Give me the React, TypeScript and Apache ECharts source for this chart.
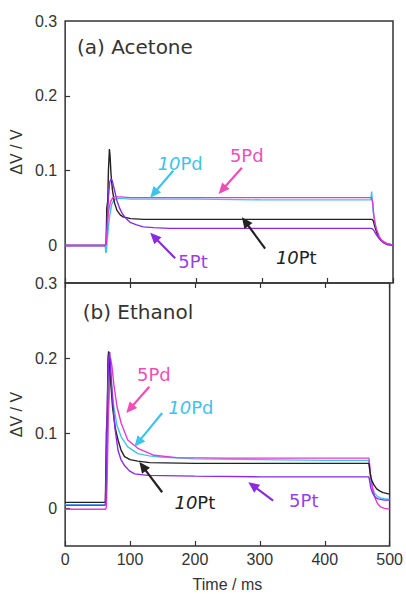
import React, { useEffect, useRef } from "react";
import * as echarts from "echarts";

// ---- axis ticks ----
const xTickValues = [0, 100, 200, 300, 400, 500];
const yLabelValues = [0, 0.1, 0.2, 0.3];
const yTickValues = [0, 0.1, 0.2];

// ---- (a) Acetone ----
const aceT_10Pt = [0, 61, 62.5, 63.5, 65, 66, 67.5, 68.5, 70, 72, 75, 79, 84, 89, 95, 100, 120, 200, 300, 400, 466, 468, 470, 472, 475, 478, 482, 487, 493, 500];
const aceV_10Pt = [0, 0, 0.005, 0.05, 0.06, 0.1, 0.129, 0.12, 0.095, 0.075, 0.058, 0.047, 0.041, 0.038, 0.037, 0.036, 0.035, 0.035, 0.035, 0.035, 0.035, 0.035, 0.033, 0.026, 0.018, 0.012, 0.007, 0.004, 0.002, 0.001];

const aceT_5Pt = [0, 61, 62.5, 64, 66, 68, 70, 72, 75, 79, 83, 87, 92, 99, 108, 119, 135, 160, 200, 300, 400, 467, 469, 471, 475, 480, 485, 492, 500];
const aceV_5Pt = [0, 0, 0.002, 0.03, 0.065, 0.085, 0.089, 0.086, 0.075, 0.06, 0.05, 0.043, 0.037, 0.031, 0.028, 0.025, 0.024, 0.023, 0.023, 0.023, 0.023, 0.023, 0.022, 0.02, 0.014, 0.008, 0.004, 0.001, 0];

const aceT_10Pd = [0, 61, 62, 63, 64, 66, 68, 71, 74, 79, 85, 100, 200, 300, 400, 466, 467.5, 468.5, 470, 472, 475, 479, 484, 490, 500];
const aceV_10Pd = [0, 0, -0.01, -0.008, 0.005, 0.025, 0.04, 0.055, 0.06, 0.063, 0.063, 0.062, 0.062, 0.061, 0.061, 0.061, 0.072, 0.06, 0.045, 0.032, 0.02, 0.01, 0.005, 0.002, 0.001];

const aceT_5Pd = [0, 61, 62, 64, 66, 69, 72.7, 76, 85, 100, 200, 300, 400, 467, 469, 470.5, 473, 475.5, 479, 483, 490, 500];
const aceV_5Pd = [0, 0, 0.002, 0.02, 0.045, 0.058, 0.064, 0.065, 0.065, 0.064, 0.064, 0.064, 0.064, 0.064, 0.058, 0.042, 0.028, 0.02, 0.012, 0.007, 0.003, 0.001];

// ---- (b) Ethanol ----
const ethT_10Pt = [0, 61, 62, 63.5, 65, 66, 67, 68, 70, 73, 77, 81.5, 86, 91.5, 100, 112, 130, 200, 300, 400, 468, 469.5, 471, 473, 476, 480, 485, 490, 500];
const ethV_10Pt = [0.008, 0.008, 0.01, 0.1, 0.13, 0.2, 0.209, 0.2, 0.17, 0.135, 0.108, 0.091, 0.078, 0.069, 0.065, 0.063, 0.061, 0.06, 0.06, 0.06, 0.06, 0.05, 0.042, 0.036, 0.031, 0.026, 0.023, 0.021, 0.019];

const ethT_5Pt = [0, 61, 62, 63.5, 65, 67, 68.7, 70, 73, 77, 81.5, 86, 91.5, 99, 107, 127, 200, 300, 400, 468, 469.5, 471, 474, 477, 481, 486, 492, 500];
const ethV_5Pt = [0.004, 0.004, 0.006, 0.06, 0.14, 0.2, 0.208, 0.19, 0.145, 0.105, 0.077, 0.065, 0.057, 0.05, 0.046, 0.044, 0.043, 0.042, 0.042, 0.042, 0.035, 0.027, 0.02, 0.016, 0.013, 0.012, 0.011, 0.011];

const ethT_10Pd = [0, 62, 63, 64.5, 66, 68, 70, 72, 75, 80, 86.5, 96.5, 112, 130, 147, 200, 300, 400, 468, 469.5, 471, 474, 477, 481, 486, 492, 500];
const ethV_10Pd = [0.005, 0.005, 0.007, 0.06, 0.12, 0.16, 0.172, 0.16, 0.135, 0.11, 0.095, 0.082, 0.073, 0.07, 0.0685, 0.066, 0.065, 0.064, 0.064, 0.05, 0.038, 0.027, 0.02, 0.016, 0.014, 0.013, 0.012];

const ethT_5Pd = [0, 62.5, 63.5, 65, 66.5, 68.5, 70, 72, 75, 80, 86.5, 96.5, 112, 137, 172, 250, 300, 400, 468, 469.5, 471, 474, 477, 481, 486, 492, 500];
const ethV_5Pd = [-0.001, -0.001, 0.002, 0.05, 0.12, 0.18, 0.2, 0.19, 0.165, 0.135, 0.113, 0.091, 0.08, 0.0707, 0.0676, 0.067, 0.067, 0.067, 0.067, 0.055, 0.04, 0.025, 0.015, 0.007, 0.002, 0, -0.001];

// ---- colours / fonts ----
const C_10Pt = "#222222";
const C_5Pt = "#8a2be2";
const C_10Pd = "#3fc3ea";
const C_5Pd = "#e23ad6";
const L_5Pd = "#ee4fb6";
const L_5Pt = "#9a3fe6";
const TICK_FONT = "Liberation Sans";
const ANN_FONT = "DejaVu Sans";
const AX = "#333333";

const zip = (t: number[], v: number[]) => t.map((x, i) => [x, v[i]]);

type Ann = {
  panel: number;
  lead?: string;
  tail: string;
  color: string;
  arrowColor?: string;
  tx: number;
  ty: number;
  ax0?: number;
  ay0?: number;
  ax1?: number;
  ay1?: number;
  size: number;
  align: string;
};

const annotations: Ann[] = [
  { panel: 0, tail: "(a) Acetone", color: "#333", tx: 18, ty: 0.265, size: 20, align: "left" },
  { panel: 1, tail: "(b) Ethanol", color: "#333", tx: 27, ty: 0.261, size: 20, align: "left" },
  { panel: 0, lead: "10", tail: "Pd", color: C_10Pd, arrowColor: C_10Pd, tx: 175.5, ty: 0.109, ax0: 164.8, ay0: 0.1, ax1: 129.7, ay1: 0.064, size: 18, align: "center" },
  { panel: 0, tail: "5Pd", color: L_5Pd, arrowColor: L_5Pd, tx: 277, ty: 0.12, ax0: 269.6, ay0: 0.104, ax1: 234, ay1: 0.069, size: 18, align: "center" },
  { panel: 0, tail: "5Pt", color: L_5Pt, arrowColor: C_5Pt, tx: 195, ty: -0.021, ax0: 167.8, ay0: -0.017, ax1: 129.7, ay1: 0.017, size: 18, align: "center" },
  { panel: 0, lead: "10", tail: "Pt", color: C_10Pt, arrowColor: C_10Pt, tx: 352.5, ty: -0.016, ax0: 305, ay0: -0.004, ax1: 269.6, ay1: 0.038, size: 18, align: "center" },
  { panel: 1, tail: "5Pd", color: L_5Pd, arrowColor: L_5Pd, tx: 136.6, ty: 0.178, ax0: 129.7, ay0: 0.162, ax1: 94.1, ay1: 0.127, size: 18, align: "center" },
  { panel: 1, lead: "10", tail: "Pd", color: C_10Pd, arrowColor: C_10Pd, tx: 193.8, ty: 0.134, ax0: 149.5, ay0: 0.127, ax1: 106.8, ay1: 0.082, size: 18, align: "center" },
  { panel: 1, lead: "10", tail: "Pt", color: C_10Pt, arrowColor: C_10Pt, tx: 199.9, ty: 0.0077, ax0: 149.5, ay0: 0.0215, ax1: 114.4, ay1: 0.0617, size: 18, align: "center" },
  { panel: 1, tail: "5Pt", color: L_5Pt, arrowColor: C_5Pt, tx: 367.7, ty: 0.0103, ax0: 320.4, ay0: 0.0103, ax1: 282.3, ay1: 0.0349, size: 18, align: "center" },
];

const yAxisBase = (gridIndex: number) => ({
  type: "value",
  gridIndex,
  min: -0.05,
  max: 0.3,
  name: "ΔV / V",
  nameLocation: "middle",
  nameGap: 36,
  nameRotate: 90,
  nameTextStyle: { fontSize: 16, color: AX, fontFamily: TICK_FONT },
  axisLine: { show: false, onZero: false },
  splitLine: { show: false },
  axisTick: { show: true, inside: true, length: 5, customValues: yTickValues, lineStyle: { color: AX, width: 1.2 } },
  axisLabel: { show: true, customValues: yLabelValues, margin: 8, fontSize: 16, color: AX, fontFamily: TICK_FONT, formatter: (v: number) => (v === 0 ? "0" : v.toFixed(1)) },
});

const xAxisBase = (gridIndex: number, position: string, labels: boolean) => ({
  type: "value",
  gridIndex,
  position,
  min: 0,
  max: 500,
  interval: 100,
  axisLine: { show: false, onZero: false },
  splitLine: { show: false },
  axisTick: { show: true, inside: true, length: 5, customValues: xTickValues, lineStyle: { color: AX, width: 1.2 } },
  axisLabel: { show: labels, margin: 5, fontSize: 16, color: AX, fontFamily: TICK_FONT },
});

const lineSeries = (name: string, t: number[], v: number[], color: string, axis: number) => ({
  name,
  type: "line",
  xAxisIndex: axis === 0 ? 0 : 1,
  yAxisIndex: axis,
  data: zip(t, v),
  showSymbol: false,
  symbol: "none",
  lineStyle: { color, width: 1.4 },
  itemStyle: { color },
  silent: true,
});

const option: any = {
  animation: false,
  backgroundColor: "#ffffff",
  textStyle: { fontFamily: TICK_FONT },
  grid: [
    { left: 65, right: 13, top: 21, height: 262, show: true, borderColor: AX, borderWidth: 1.5, backgroundColor: "transparent" },
    { left: 65, right: 13, top: 283, height: 263, show: true, borderColor: AX, borderWidth: 1.5, backgroundColor: "transparent" },
  ],
  xAxis: [
    xAxisBase(0, "bottom", false),
    { ...xAxisBase(1, "bottom", true), name: "Time / ms", nameLocation: "middle", nameGap: 30, nameTextStyle: { fontSize: 16, color: AX, fontFamily: TICK_FONT } },
    xAxisBase(1, "top", false),
  ],
  yAxis: [yAxisBase(0), yAxisBase(1)],
  series: [
    lineSeries("10Pd", aceT_10Pd, aceV_10Pd, C_10Pd, 0),
    lineSeries("10Pt", aceT_10Pt, aceV_10Pt, C_10Pt, 0),
    lineSeries("5Pt", aceT_5Pt, aceV_5Pt, C_5Pt, 0),
    lineSeries("5Pd", aceT_5Pd, aceV_5Pd, C_5Pd, 0),
    lineSeries("10Pd", ethT_10Pd, ethV_10Pd, C_10Pd, 1),
    lineSeries("5Pd", ethT_5Pd, ethV_5Pd, C_5Pd, 1),
    lineSeries("10Pt", ethT_10Pt, ethV_10Pt, C_10Pt, 1),
    lineSeries("5Pt", ethT_5Pt, ethV_5Pt, C_5Pt, 1),
  ],
};

export default function App() {
  const ref = useRef<HTMLDivElement>(null);
  useEffect(() => {
    const chart = echarts.init(ref.current!, null, { renderer: "svg" });
    chart.setOption(option);
    const graphics: any[] = [];
    annotations.forEach((a) => {
      const p = chart.convertToPixel({ gridIndex: a.panel } as any, [a.tx, a.ty]) as number[];
      const rich: any = {
        i: { fontStyle: "italic", fill: a.color, fontSize: a.size, fontFamily: ANN_FONT },
        n: { fill: a.color, fontSize: a.size, fontFamily: ANN_FONT },
      };
      const text = a.lead ? `{i|${a.lead}}{n|${a.tail}}` : `{n|${a.tail}}`;
      graphics.push({
        type: "text",
        x: p[0],
        y: p[1],
        silent: true,
        style: { text, rich, fill: a.color, fontSize: a.size, fontFamily: ANN_FONT, textAlign: a.align, textVerticalAlign: "middle" },
        z: 10,
      });
      if (a.ax0 !== undefined) {
        const s = chart.convertToPixel({ gridIndex: a.panel } as any, [a.ax0, a.ay0]) as number[];
        const e = chart.convertToPixel({ gridIndex: a.panel } as any, [a.ax1, a.ay1]) as number[];
        const dx = e[0] - s[0];
        const dy = e[1] - s[1];
        const len = Math.hypot(dx, dy);
        const ux = dx / len;
        const uy = dy / len;
        const hl = 11;
        const hw = 5;
        const bx = e[0] - ux * hl;
        const by = e[1] - uy * hl;
        graphics.push({
          type: "line",
          silent: true,
          z: 10,
          shape: { x1: s[0], y1: s[1], x2: bx + ux * 1, y2: by + uy * 1 },
          style: { stroke: a.arrowColor, lineWidth: 2.2 },
        });
        graphics.push({
          type: "polygon",
          silent: true,
          z: 10,
          shape: { points: [[e[0], e[1]], [bx - uy * hw, by + ux * hw], [bx + uy * hw, by - ux * hw]] },
          style: { fill: a.arrowColor },
        });
      }
    });
    chart.setOption({ graphic: graphics });
    return () => chart.dispose();
  }, []);
  return <div ref={ref} style={{ position: "fixed", left: 0, top: 0, width: 406, height: 594 }} />;
}
